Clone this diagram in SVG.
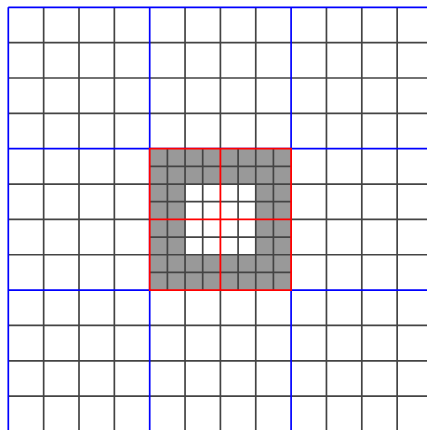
<svg xmlns="http://www.w3.org/2000/svg" width="427" height="430" viewBox="0 0 427 430">
<style>
.g{stroke:#444;stroke-width:1.7;fill:none}
.b{stroke:#0000ff;stroke-width:1.7;fill:none}
.r{stroke:#ff0000;stroke-width:1.8;fill:none}
.f{fill:#999999;stroke:none}
.w{fill:#ffffff;stroke:none}
</style>
<rect width="427" height="430" fill="#ffffff"/>
<g id="coarse-grid">
<path class="g" d="M43.65 7.3V430M79 7.3V430M114.35 7.3V430M185.05 7.3V430M220.4 7.3V430M255.75 7.3V430M326.45 7.3V430M361.8 7.3V430M397.15 7.3V430
M8.3 42.65H427M8.3 78H427M8.3 113.35H427M8.3 184.05H427M8.3 219.4H427M8.3 254.75H427M8.3 325.45H427M8.3 360.8H427M8.3 396.15H427"/>
<path class="b" d="M8.3 7.3V430M149.7 7.3V430M291.1 7.3V430M8.3 7.3H427M8.3 148.7H427M8.3 290.1H427"/>
</g>
<g id="refined-block">
<rect class="f" x="149.7" y="148.7" width="141.4" height="141.4"/>
<rect class="w" x="185.05" y="184.05" width="70.7" height="70.7"/>
<path class="g" d="M167.4 148.7V290.1M185.05 148.7V290.1M202.7 148.7V290.1M238.1 148.7V290.1M255.75 148.7V290.1M273.4 148.7V290.1
M149.7 166.4H291.1M149.7 184.05H291.1M149.7 201.7H291.1M149.7 237.1H291.1M149.7 254.75H291.1M149.7 272.4H291.1"/>
<path class="r" d="M149.7 148.7H291.1V290.1H149.7ZM220.4 148.7V290.1M149.7 219.4H291.1"/>
</g>
</svg>
